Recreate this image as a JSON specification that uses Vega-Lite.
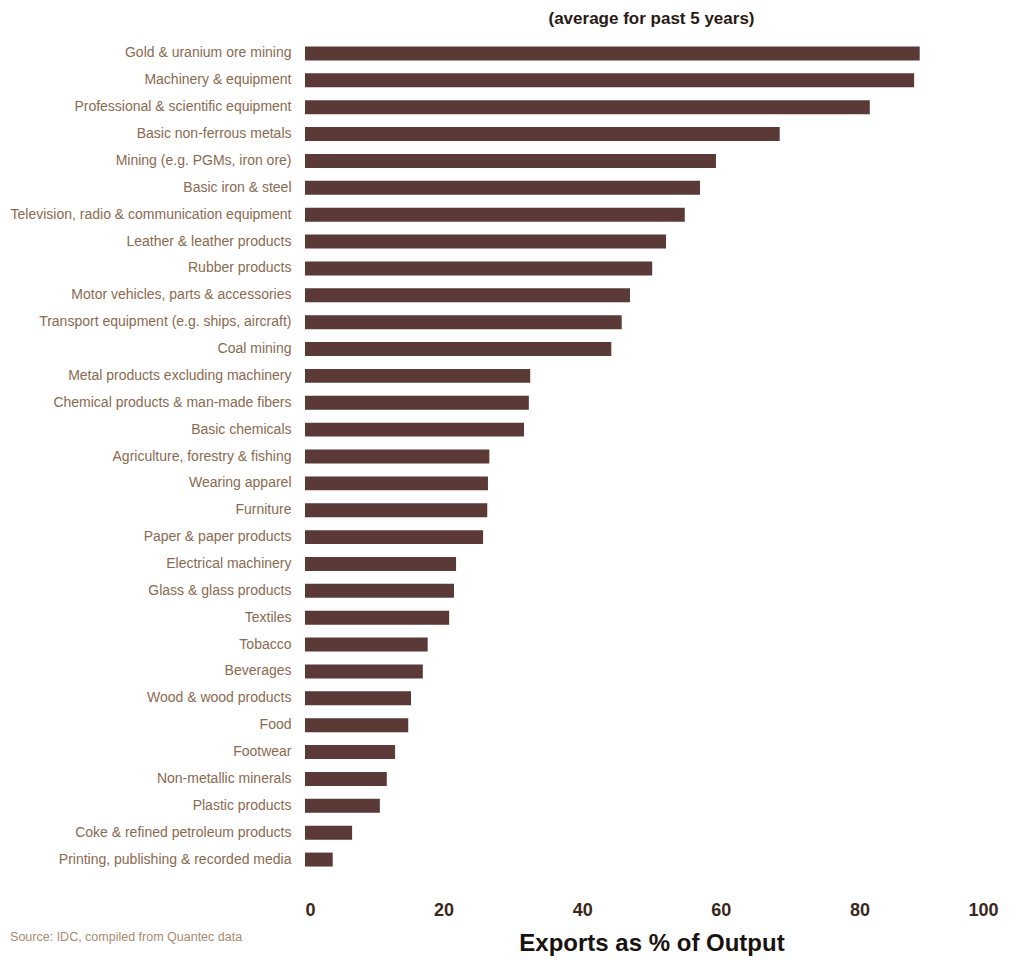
{
  "$schema": "https://vega.github.io/schema/vega-lite/v6.json",
  "background": "white",
  "padding": {"left": 10, "top": 10, "right": 10, "bottom": 2},
  "title": {"text": "Source: IDC, compiled from Quantec data", "orient": "bottom", "anchor": "start", "frame": "bounds", "fontSize": 12.5, "font": "Liberation Sans, sans-serif", "fontWeight": "normal", "color": "#a88a70", "offset": -24},
  "vconcat": [
    {
      "title": {"text": "(average for past 5 years)", "fontSize": 17, "font": "Liberation Sans, sans-serif", "fontWeight": "bold", "color": "#2a1a14", "anchor": "middle", "offset": 12},
      "width": 693,
      "height": 833,
      "data": {"values": [
        {"industry": "Gold & uranium ore mining", "value": 88.7},
        {"industry": "Machinery & equipment", "value": 87.9},
        {"industry": "Professional & scientific equipment", "value": 81.5},
        {"industry": "Basic non-ferrous metals", "value": 68.5},
        {"industry": "Mining (e.g. PGMs, iron ore)", "value": 59.3},
        {"industry": "Basic iron & steel", "value": 57.0},
        {"industry": "Television, radio & communication equipment", "value": 54.8},
        {"industry": "Leather & leather products", "value": 52.1},
        {"industry": "Rubber products", "value": 50.1},
        {"industry": "Motor vehicles, parts & accessories", "value": 46.9},
        {"industry": "Transport equipment (e.g. ships, aircraft)", "value": 45.7},
        {"industry": "Coal mining", "value": 44.2},
        {"industry": "Metal products excluding machinery", "value": 32.5},
        {"industry": "Chemical products & man-made fibers", "value": 32.3},
        {"industry": "Basic chemicals", "value": 31.6},
        {"industry": "Agriculture, forestry & fishing", "value": 26.6},
        {"industry": "Wearing apparel", "value": 26.4},
        {"industry": "Furniture", "value": 26.3},
        {"industry": "Paper & paper products", "value": 25.7},
        {"industry": "Electrical machinery", "value": 21.8},
        {"industry": "Glass & glass products", "value": 21.5},
        {"industry": "Textiles", "value": 20.8},
        {"industry": "Tobacco", "value": 17.7},
        {"industry": "Beverages", "value": 17.0},
        {"industry": "Wood & wood products", "value": 15.3},
        {"industry": "Food", "value": 14.9},
        {"industry": "Footwear", "value": 13.0},
        {"industry": "Non-metallic minerals", "value": 11.8},
        {"industry": "Plastic products", "value": 10.8},
        {"industry": "Coke & refined petroleum products", "value": 6.8},
        {"industry": "Printing, publishing & recorded media", "value": 4.0}
      ]},
      "mark": {"type": "bar", "color": "#5a3937"},
      "encoding": {
        "y": {"field": "industry", "type": "nominal", "sort": null,
          "scale": {"paddingInner": 0.48, "paddingOuter": 0.24},
          "axis": {"title": null, "domain": false, "ticks": false, "labelFontSize": 14, "labelFont": "Liberation Sans, sans-serif", "labelColor": "#8a6a50", "labelPadding": 14, "labelLimit": 400}},
        "x": {"field": "value", "type": "quantitative",
          "scale": {"domain": [0, 100], "nice": false},
          "axis": {"title": "Exports as % of Output", "values": [0, 20, 40, 60, 80, 100], "grid": false, "domain": false, "ticks": false, "labelFontSize": 18, "labelFontWeight": "bold", "labelFont": "Liberation Sans, sans-serif", "labelColor": "#3a2820", "labelPadding": 28, "titleFontSize": 24, "titleFontWeight": "bold", "titleFont": "Liberation Sans, sans-serif", "titleColor": "#1a1210", "titlePadding": 12}}
      }
    }
  ],
  "config": {"view": {"stroke": null}}
}
